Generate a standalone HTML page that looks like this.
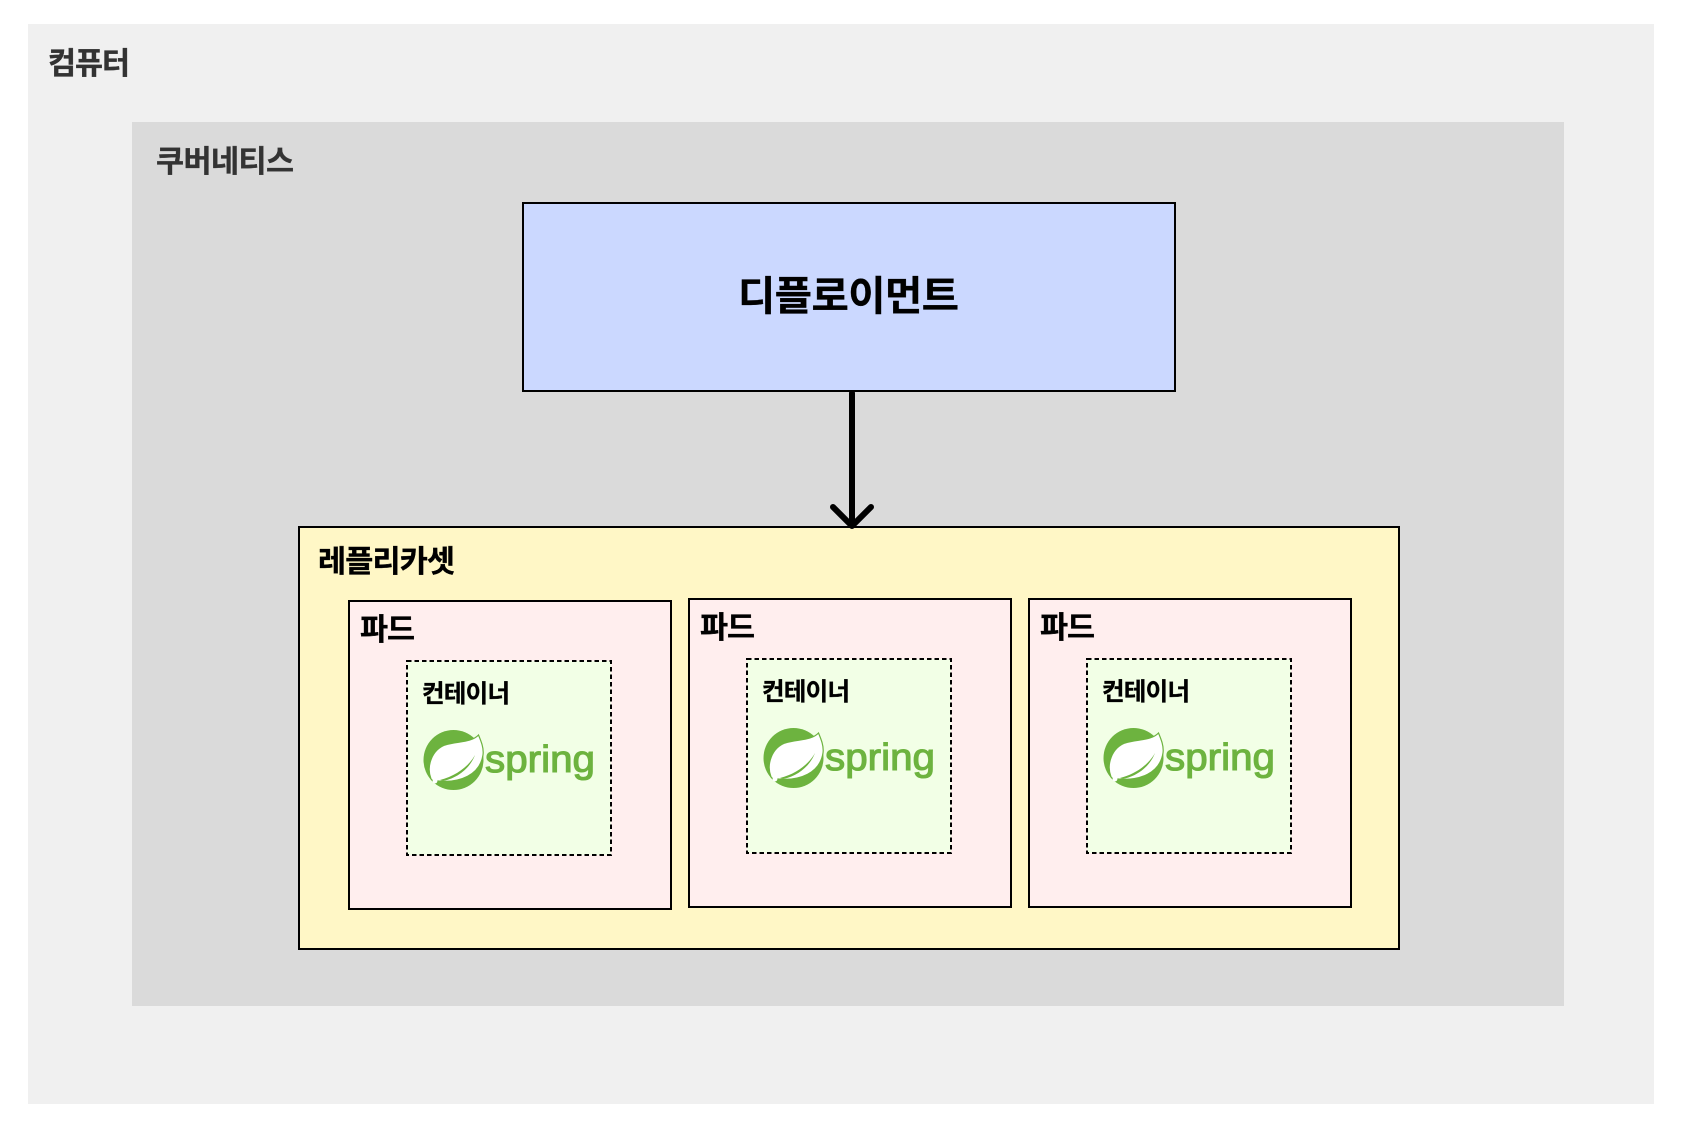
<!DOCTYPE html>
<html lang="ko"><head><meta charset="utf-8"><style>
html,body{margin:0;padding:0;background:#fff}
svg{display:block}
text.k{font-family:"Liberation Sans","Noto Sans CJK KR",sans-serif;font-weight:700;stroke-width:.35px}
text.s{font-family:"Liberation Sans",sans-serif;fill:#6db33f;stroke:#6db33f;stroke-width:1.1px;font-size:38px}
</style></head><body>
<svg width="1692" height="1134" viewBox="0 0 1692 1134" xmlns="http://www.w3.org/2000/svg">
<rect width="1692" height="1134" fill="#fff"/>
<rect x="28" y="24" width="1626" height="1080" fill="#f0f0f0"/>
<rect x="132" y="122" width="1432" height="884" fill="#dadada"/>
<text class="k" x="48" y="74" font-size="30.5" fill="#333" stroke="#333" textLength="82">컴퓨터</text>
<text class="k" x="156" y="172" font-size="30.5" fill="#333" stroke="#333" textLength="138">쿠버네티스</text>

<rect x="523" y="203" width="652" height="188" fill="#cbd8ff" stroke="#000" stroke-width="2"/>
<text class="k" x="738" y="310" font-size="40.5" fill="#000" stroke="#000" textLength="221">디플로이먼트</text>

<rect x="299" y="527" width="1100" height="422" fill="#fff7c6" stroke="#000" stroke-width="2"/>
<text class="k" x="318" y="572" font-size="30.5" fill="#000" stroke="#000" textLength="137">레플리카셋</text>

<path d="M852 393V524M833 507L852 526L871 507" fill="none" stroke="#000" stroke-width="6" stroke-linecap="round" stroke-linejoin="round"/>

<defs>
<g id="leaf">
<circle cx="453.5" cy="760" r="30" fill="#6db33f"/>
<path d="M478.5 735C471 743 457 741 445 745C432 750 426 766 431 779C433 782 436 781 438 781C460 783 480 775 483 755C484 748 481 741 478.5 735Z" fill="#fff" stroke="#6db33f" stroke-width="1.2"/>
<path d="M440 780C456 776 469 766 475 755C470 768 458 778 443 781Z" fill="#6db33f"/>
<circle cx="435" cy="781" r="2.4" fill="#fff"/>
</g>
</defs>

<rect x="349" y="601" width="322" height="308" fill="#ffeeee" stroke="#000" stroke-width="2"/>
<rect x="407" y="661" width="204" height="194" fill="#f2ffe6" stroke="#000" stroke-width="2" stroke-dasharray="4.5 3"/>
<text class="k" x="360" y="640" font-size="30.5" fill="#000" stroke="#000" textLength="55">파드</text>
<text class="k" x="422" y="702" font-size="24.5" fill="#000" stroke="#000" textLength="88">컨테이너</text>
<use href="#leaf"/>
<text class="s" x="485" y="772" textLength="110" lengthAdjust="spacingAndGlyphs">spring</text>

<rect x="689" y="599" width="322" height="308" fill="#ffeeee" stroke="#000" stroke-width="2"/>
<rect x="747" y="659" width="204" height="194" fill="#f2ffe6" stroke="#000" stroke-width="2" stroke-dasharray="4.5 3"/>
<text class="k" x="700" y="638" font-size="30.5" fill="#000" stroke="#000" textLength="55">파드</text>
<text class="k" x="762" y="700" font-size="24.5" fill="#000" stroke="#000" textLength="88">컨테이너</text>
<use href="#leaf" transform="translate(340,-2)"/>
<text class="s" x="825" y="770" textLength="110" lengthAdjust="spacingAndGlyphs">spring</text>

<rect x="1029" y="599" width="322" height="308" fill="#ffeeee" stroke="#000" stroke-width="2"/>
<rect x="1087" y="659" width="204" height="194" fill="#f2ffe6" stroke="#000" stroke-width="2" stroke-dasharray="4.5 3"/>
<text class="k" x="1040" y="638" font-size="30.5" fill="#000" stroke="#000" textLength="55">파드</text>
<text class="k" x="1102" y="700" font-size="24.5" fill="#000" stroke="#000" textLength="88">컨테이너</text>
<use href="#leaf" transform="translate(680,-2)"/>
<text class="s" x="1165" y="770" textLength="110" lengthAdjust="spacingAndGlyphs">spring</text>
</svg>
</body></html>
